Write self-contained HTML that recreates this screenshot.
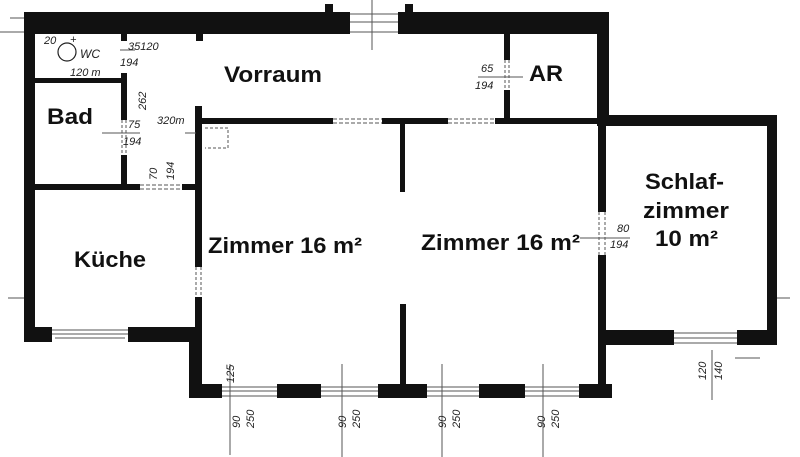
<!DOCTYPE html>
<html><head><meta charset="utf-8"><style>
html,body{margin:0;padding:0;background:#fff;}
svg{display:block;}
text{font-family:"Liberation Sans",sans-serif;}
.l{font-weight:bold;font-size:22px;fill:#111;}
.h{font-size:11px;fill:#222;font-style:italic;}
</style></head><body>
<svg width="800" height="457" viewBox="0 0 800 457" xmlns="http://www.w3.org/2000/svg">
<rect width="800" height="457" fill="#fff"/>
<g fill="#111">
<rect x="24" y="12" width="326" height="22"/>
<rect x="398" y="12" width="211" height="22"/>
<rect x="325" y="4" width="8" height="10"/>
<rect x="405" y="4" width="8" height="10"/>
<rect x="24" y="12" width="11" height="330"/>
<rect x="24" y="327" width="28" height="15"/>
<rect x="128" y="327" width="73" height="15"/>
<rect x="35" y="78" width="92" height="5"/>
<rect x="121" y="33" width="6" height="8"/>
<rect x="121" y="73" width="6" height="47"/>
<rect x="121" y="155" width="6" height="35"/>
<rect x="35" y="184" width="105" height="6"/>
<rect x="182" y="184" width="18" height="6"/>
<rect x="196" y="33" width="7" height="8"/>
<rect x="195" y="106" width="7" height="161"/>
<rect x="195" y="297" width="7" height="45"/>
<rect x="189" y="327" width="13" height="71"/>
<rect x="195" y="118" width="138" height="6"/>
<rect x="382" y="118" width="66" height="6"/>
<rect x="495" y="118" width="110" height="6"/>
<rect x="504" y="34" width="6" height="26"/>
<rect x="504" y="90" width="6" height="32"/>
<rect x="597" y="12" width="12" height="114"/>
<rect x="400" y="118" width="5" height="74"/>
<rect x="400" y="304" width="6" height="90"/>
<rect x="189" y="384" width="33" height="14"/>
<rect x="277" y="384" width="44" height="14"/>
<rect x="378" y="384" width="49" height="14"/>
<rect x="479" y="384" width="46" height="14"/>
<rect x="579" y="384" width="33" height="14"/>
<rect x="597" y="115" width="180" height="11"/>
<rect x="767" y="115" width="10" height="230"/>
<rect x="598" y="115" width="8" height="97"/>
<rect x="598" y="255" width="8" height="143"/>
<rect x="598" y="330" width="76" height="15"/>
<rect x="737" y="330" width="40" height="15"/>
</g>
<g stroke="#555" stroke-width="1" fill="none">
<path d="M350 14H398M350 22H398M350 32H398"/>
<path d="M52 330H128M52 334H128M55 338H125"/>
<path d="M222 387H277M222 391H277M222 396H277"/>
<path d="M321 387H378M321 391H378M321 396H378"/>
<path d="M427 387H479M427 391H479M427 396H479"/>
<path d="M525 387H579M525 391H579M525 396H579"/>
<path d="M674 333H737M674 338H737M674 343H737"/>
<path d="M333 119H382M333 123H382M448 119H495M448 123H495" stroke-dasharray="4 2"/>
<path d="M140 185H182M140 189H182" stroke-dasharray="4 2"/>
<path d="M196 267V297M201 267V297" stroke-dasharray="3 2"/>
<path d="M122 120V155M126 120V155" stroke-dasharray="3 2"/>
<path d="M505 60V90M509 60V90" stroke-dasharray="3 2"/>
<path d="M599 212V255M605 212V255" stroke-dasharray="3 2"/>
<path d="M205 128H228V148H205" stroke-dasharray="3 2"/>
<path d="M0 32H24M10 18H24M102 133H140M120 50H135M478 77H523M580 238H630M185 133H196"/>
<path d="M230 364V455M342 364V457M442 364V457M543 364V457M712 350V400M735 358H760"/>
<path d="M372 0V50"/>
<path d="M8 298H24M777 298H790"/>
</g>
<circle cx="67" cy="52" r="9" fill="none" stroke="#222" stroke-width="1.2"/>
<g class="h">
<text x="44" y="44">20</text><text x="70" y="43">+</text>
<text x="80" y="58" font-size="12">WC</text>
<text x="70" y="76">120 m</text>
<text x="128" y="50">35120</text>
<text x="120" y="66">194</text>
<text x="128" y="128">75</text>
<text x="157" y="124">320m</text>
<text x="123" y="145">194</text>
<text x="481" y="72">65</text>
<text x="475" y="89">194</text>
<text x="617" y="232">80</text>
<text x="610" y="248">194</text>
<g transform="rotate(-90)">
<text x="-110" y="146">262</text>
<text x="-180" y="157">70</text>
<text x="-180" y="174">194</text>
<text x="-383" y="234">125</text>
<text x="-428" y="240">90</text><text x="-428" y="254">250</text>
<text x="-428" y="346">90</text><text x="-428" y="360">250</text>
<text x="-428" y="446">90</text><text x="-428" y="460">250</text>
<text x="-428" y="545">90</text><text x="-428" y="559">250</text>
<text x="-380" y="706">120</text><text x="-380" y="722">140</text>
</g>
</g>
<g class="l">
<text x="224" y="82" textLength="98" lengthAdjust="spacingAndGlyphs">Vorraum</text>
<text x="529" y="81" textLength="34" lengthAdjust="spacingAndGlyphs">AR</text>
<text x="47" y="124" textLength="46" lengthAdjust="spacingAndGlyphs">Bad</text>
<text x="74" y="267" textLength="72" lengthAdjust="spacingAndGlyphs">Küche</text>
<text x="208" y="253" textLength="154" lengthAdjust="spacingAndGlyphs">Zimmer 16 m²</text>
<text x="421" y="250" textLength="159" lengthAdjust="spacingAndGlyphs">Zimmer 16 m²</text>
<text x="645" y="189" textLength="79" lengthAdjust="spacingAndGlyphs">Schlaf-</text>
<text x="643" y="218" textLength="86" lengthAdjust="spacingAndGlyphs">zimmer</text>
<text x="655" y="246" textLength="63" lengthAdjust="spacingAndGlyphs">10 m²</text>
</g>
</svg>
</body></html>
